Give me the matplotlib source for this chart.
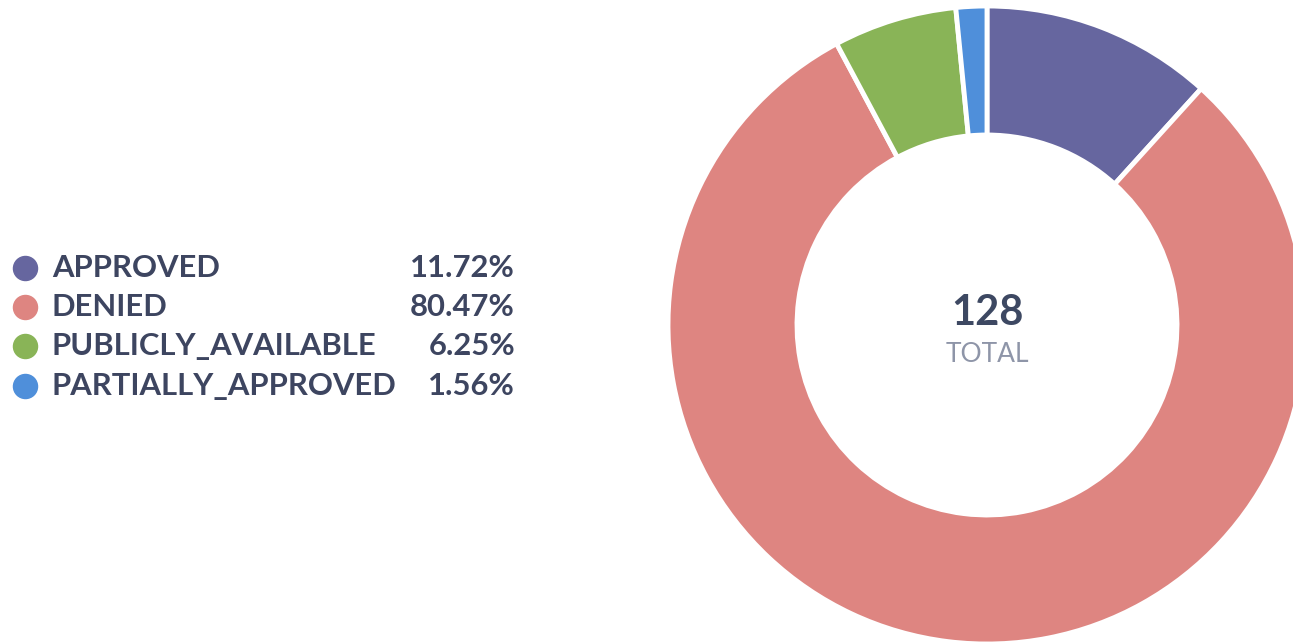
import matplotlib.pyplot as plt

# data
labels = ['APPROVED', 'DENIED', 'PUBLICLY_AVAILABLE', 'PARTIALLY_APPROVED']
counts = [15, 103, 8, 2]
colors = ['#66669f', '#de8581', '#89b457', '#4f8fda']

plt.rcParams['font.family'] = ['Lato', 'DejaVu Sans']

W, H = 1293, 644
fig = plt.figure(figsize=(W / 100, H / 100), dpi=100)
ax = fig.add_axes([0, 0, 1, 1])

total = sum(counts)

# donut
ax.pie(counts, colors=colors, startangle=90, counterclock=False,
       center=(987, H - 325), radius=319,
       wedgeprops=dict(width=129, edgecolor='white', linewidth=3.5))

# center text
ax.text(987, H - 313, str(total), ha='center', va='center',
        fontsize=30, fontweight='bold', color='#3d4862')
ax.text(987, H - 354, 'TOTAL', ha='center', va='center',
        fontsize=19, color='#8e95a8')

# legend
row_y = [268, 307, 346, 386]
for lab, c, col, y in zip(labels, counts, colors, row_y):
    ax.scatter([25], [H - y], s=300, color=col, zorder=3)
    ax.text(52, H - y, lab, ha='left', va='center', fontsize=22.3,
            fontweight='bold', color='#3d4560')
    ax.text(515, H - y, f'{c / total * 100:.2f}%', ha='right', va='center',
            fontsize=22.3, fontweight='bold', color='#3d4560')

ax.set_xlim(0, W)
ax.set_ylim(0, H)
ax.set_aspect('equal', adjustable='box')
ax.axis('off')

plt.savefig('out.png', dpi=100, facecolor='white')
plt.close()
